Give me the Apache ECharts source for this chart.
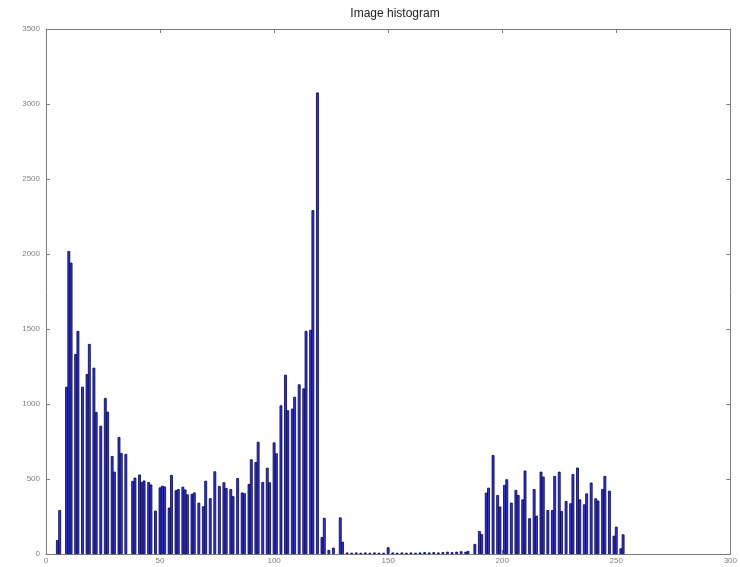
<!DOCTYPE html>
<html>
<head>
<meta charset="utf-8">
<script src="https://cdn.jsdelivr.net/npm/echarts@6/dist/echarts.min.js"></script>
<style>
html,body{margin:0;padding:0;background:#fff;}
#chart{width:740px;height:567px;}
</style>
</head>
<body>
<div id="chart"></div>
<script>
var titleText = 'Image histogram';
var xTicks = [0, 50, 100, 150, 200, 250, 300];
var yTicks = [0, 500, 1000, 1500, 2000, 2500, 3000, 3500];

// gray levels (bins) that have a visible count, and their counts
var bins = [5, 6, 9, 10, 11, 13, 14, 16, 18, 19, 21, 22, 24, 26, 27, 29, 30, 32, 33, 35,
  38, 39, 41, 42, 43, 45, 46, 48, 50, 51, 52, 54, 55, 57, 58, 60, 61, 62, 64, 65,
  67, 69, 70, 72, 74, 76, 78, 79, 81, 82, 84, 86, 87, 89, 90, 92, 93, 95, 97, 98,
  100, 101, 103, 105, 106, 108, 109, 111, 113, 114, 116, 117, 119, 121, 122, 124, 126, 129, 130,
  132, 134, 136, 138, 140, 142, 144, 146, 148, 150, 152, 154, 156, 158, 160, 162, 164, 166, 168,
  170, 172, 174, 176, 178, 180, 182, 184, 185, 188, 190, 191, 193, 194, 196, 198, 199,
  201, 202, 204, 206, 207, 209, 210, 212, 214, 215, 217, 218, 220, 222, 223, 225, 226, 228,
  230, 231, 233, 234, 236, 237, 239, 241, 242, 244, 245, 247, 249, 250, 252, 253, 255];
var counts = [93, 293, 1115, 2020, 1942, 1333, 1487, 1115, 1200, 1400, 1242, 947, 855, 1040, 949, 653, 549, 780, 673, 667,
  487, 509, 530, 480, 490, 480, 463, 289, 444, 455, 450, 309, 527, 425, 433, 448, 430, 397, 400, 410,
  342, 318, 488, 372, 551, 453, 478, 440, 433, 385, 506, 410, 405, 467, 631, 613, 748, 480, 575, 478,
  744, 671, 991, 1195, 958, 969, 1048, 1131, 1104, 1487, 1494, 2292, 3077, 113, 241, 27, 42, 244, 82,
  10, 8, 10, 8, 10, 8, 10, 8, 8, 45, 10, 8, 10, 8, 10, 8, 10, 12,
  10, 12, 10, 12, 15, 12, 15, 18, 15, 20, 67, 153, 133, 409, 442, 660, 393,
  316, 460, 498, 342, 427, 393, 364, 556, 238, 433, 256, 549, 516, 293, 293, 520, 549, 287,
  353, 338, 533, 576, 364, 331, 404, 476, 371, 356, 433, 520, 422, 122, 182, 38, 131];

var data = bins.map(function (b, i) { return [b, counts[i]]; });

var axisColor = '#7a7a7a';
var labelStyle = { color: '#808080', fontSize: 8, fontFamily: 'Liberation Sans, Arial, sans-serif' };
function plain(v) { return String(v); }

function xAxisCfg(pos, showLabel) {
  return {
    type: 'value', position: pos, min: xTicks[0], max: xTicks[xTicks.length - 1], interval: 50,
    axisLine: { show: true, onZero: false, lineStyle: { color: axisColor, width: 1 } },
    axisTick: { show: true, inside: true, length: 4, lineStyle: { color: axisColor } },
    axisLabel: Object.assign({ show: showLabel, margin: 3, formatter: plain }, labelStyle),
    splitLine: { show: false }
  };
}
function yAxisCfg(pos, showLabel) {
  return {
    type: 'value', position: pos, min: yTicks[0], max: yTicks[yTicks.length - 1], interval: 500,
    axisLine: { show: true, onZero: false, lineStyle: { color: axisColor, width: 1 } },
    axisTick: { show: true, inside: true, length: 4, lineStyle: { color: axisColor } },
    axisLabel: Object.assign({ show: showLabel, margin: 6, formatter: plain }, labelStyle),
    splitLine: { show: false }
  };
}

var chart = echarts.init(document.getElementById('chart'), null, { renderer: 'canvas' });
chart.setOption({
  animation: false,
  backgroundColor: '#ffffff',
  title: {
    text: titleText, left: 390, top: 3, textAlign: 'center',
    textStyle: { fontSize: 12, fontWeight: 'normal', color: '#222', fontFamily: 'Liberation Sans, Arial, sans-serif' }
  },
  grid: { left: 46, right: 6, top: 29, bottom: 13, containLabel: false },
  xAxis: [xAxisCfg('bottom', true), xAxisCfg('top', false)],
  yAxis: [yAxisCfg('left', true), yAxisCfg('right', false)],
  series: [{
    type: 'bar',
    xAxisIndex: 0, yAxisIndex: 0,
    data: data,
    barWidth: 2.8,
    itemStyle: { color: '#3838c8', borderColor: '#000050', borderWidth: 0.8 }
  }]
});
</script>
</body>
</html>
